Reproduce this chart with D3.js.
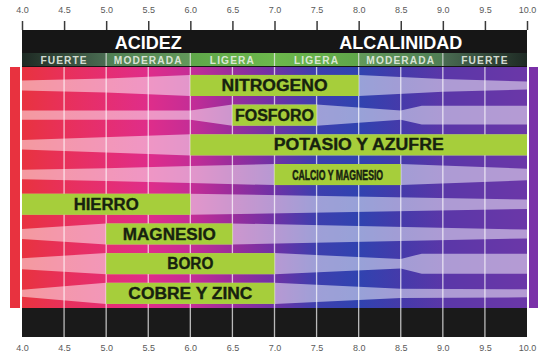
<!DOCTYPE html>
<html><head><meta charset="utf-8">
<script src="https://cdn.jsdelivr.net/npm/d3@7"></script>
<style>html,body{margin:0;padding:0;background:#fff;}svg{display:block;}</style>
</head><body>
<script>
// ---- data ----
const phTicks = [4.0,4.5,5.0,5.5,6.0,6.5,7.0,7.5,8.0,8.5,9.0,9.5,10.0];
const nutrients = ["NITROGENO","FOSFORO","POTASIO Y AZUFRE","CALCIO Y MAGNESIO","HIERRO","MAGNESIO","BORO","COBRE Y ZINC"];
const optimalStart = [6.0, 6.5, 6.0, 7.0, 4.0, 5.0, 5.0, 5.0];
const optimalEnd   = [8.0, 7.5, 10.0, 8.5, 6.0, 6.5, 7.0, 7.0];
const availN  = [[4.0,0.48],[5.0,0.67],[6.0,1],[8.0,1],[9.0,0.6],[10.0,0.38]];
const availP  = [[4.0,0.43],[6.0,0.43],[6.5,1],[7.5,1],[8.5,0.43],[8.75,0.88],[10.0,0.88]];
const availK  = [[4.0,0.45],[6.0,1],[10.0,1]];
const availCa = [[4.0,0.45],[5.0,0.6],[6.0,0.8],[7.0,1],[8.5,1],[10.0,0.55]];
const availFe = [[4.0,1],[6.0,1],[10.0,0.45]];
const availMg = [[4.0,0.48],[5.0,1],[6.5,1],[10.0,0.42]];
const availB  = [[4.0,0.52],[5.0,1],[7.0,1],[8.5,0.45],[8.75,0.95],[10.0,0.95]];
const availCu = [[4.0,0.33],[5.0,1],[7.0,1],[8.5,0.43],[10.0,0.38]];
const availability = [availN, availP, availK, availCa, availFe, availMg, availB, availCu];
const headerLabels = ["ACIDEZ","ALCALINIDAD"];
const headerCenters = [5.5, 8.5];
const zoneStart = [4,5,6,7,8,9];
const zoneEnd   = [5,6,7,8,9,10];
const zoneLabels = ["FUERTE","MODERADA","LIGERA","LIGERA","MODERADA","FUERTE"];

// ---- layout ----
const W = 543, H = 360;
const svg = d3.select("body").append("svg").attr("width", W).attr("height", H);
const x = d3.scaleLinear().domain([4,10]).range([22,527]);
const y = d3.scaleBand().domain(nutrients).range([70.6,308.2]).paddingInner(0.29).paddingOuter(0.145);
const bw = y.bandwidth();
const mainTop = 67, mainBot = 308;

const defs = svg.append("defs");
const bg = defs.append("linearGradient").attr("id","bg").attr("gradientUnits","userSpaceOnUse")
  .attr("x1", x(4)).attr("x2", x(10)).attr("y1",0).attr("y2",0);
const bgStops = [[4.0,"#e8333f"],[4.5,"#e8305a"],[5.0,"#e52e72"],[5.5,"#df2d8a"],[6.0,"#c52d96"],[6.5,"#9a2d9c"],
  [7.0,"#6e32a6"],[7.5,"#3d3fae"],[8.0,"#3043b0"],[8.5,"#453aaa"],[9.0,"#5a37a8"],[10.0,"#6b37a8"]];
bg.selectAll("stop").data(bgStops).join("stop")
  .attr("offset", d => (x(d[0])-x(4))/(x(10)-x(4))).attr("stop-color", d => d[1]);

const zoneColors = [["#1e2a24","#4a6c52"],["#4f7e54","#62995a"],["#5fa64a","#6cb84c"],["#6cb84c","#5fa64a"],["#62995a","#4f7e54"],["#4a6c52","#1e2a24"]];
zoneColors.forEach((c,i) => {
  const g = defs.append("linearGradient").attr("id","z"+i);
  g.append("stop").attr("offset",0).attr("stop-color",c[0]);
  g.append("stop").attr("offset",1).attr("stop-color",c[1]);
});

// side bars
svg.append("rect").attr("x",10).attr("y",mainTop).attr("width",10).attr("height",mainBot-mainTop).attr("fill","#e8323f");
svg.append("rect").attr("x",529).attr("y",mainTop).attr("width",9).attr("height",mainBot-mainTop).attr("fill","#7a30a8");

// main background
svg.append("rect").attr("x",x(4)).attr("y",mainTop).attr("width",x(10)-x(4)).attr("height",mainBot-mainTop).attr("fill","url(#bg)");

// availability bands
nutrients.forEach((n,i) => {
  const cy = y(n) + bw/2;
  const area = d3.area().x(d => x(d[0])).y0(d => cy - d[1]*bw/2).y1(d => cy + d[1]*bw/2);
  svg.append("path").attr("d", area(availability[i])).attr("fill","#fff").attr("fill-opacity",0.5);
});

// header
svg.append("rect").attr("x",x(4)).attr("y",30).attr("width",x(10)-x(4)).attr("height",mainTop-30).attr("fill","#161616");
svg.selectAll(".zone").data(zoneLabels).join("rect")
  .attr("x",(d,i)=>x(zoneStart[i])).attr("y",53).attr("width",(d,i)=>x(zoneEnd[i])-x(zoneStart[i])).attr("height",13)
  .attr("fill",(d,i)=>"url(#z"+i+")");
svg.selectAll(".zsep").data(zoneStart.slice(1)).join("line")
  .attr("x1",d=>x(d)).attr("x2",d=>x(d)).attr("y1",53).attr("y2",66).attr("stroke","#fff").attr("stroke-opacity",0.7).attr("stroke-width",1.2);
svg.selectAll(".zlab").data(zoneLabels).join("text")
  .attr("x",(d,i)=>x((zoneStart[i]+zoneEnd[i])/2)).attr("y",63.8).attr("text-anchor","middle")
  .attr("font-family","Liberation Sans, Arial, sans-serif").attr("font-weight","bold").attr("font-size",10.2)
  .attr("letter-spacing",1.1).attr("fill","#e8f0e6").attr("fill-opacity",0.9).text(d=>d);
svg.selectAll(".hlab").data(headerLabels).join("text")
  .attr("x",(d,i)=>x(headerCenters[i])).attr("y",48.5).attr("text-anchor","middle")
  .attr("font-family","Liberation Sans, Arial, sans-serif").attr("font-weight","bold").attr("font-size",18)
  .attr("fill","#fff").text(d=>d);

// bottom band
svg.append("rect").attr("x",x(4)).attr("y",mainBot).attr("width",x(10)-x(4)).attr("height",29).attr("fill","#1a1a1a");

// grid lines
svg.selectAll(".grid").data(phTicks.slice(1,-1)).join("line")
  .attr("x1",d=>x(d)).attr("x2",d=>x(d)).attr("y1",mainTop).attr("y2",mainBot+29)
  .attr("stroke","#fff").attr("stroke-opacity",0.7).attr("stroke-width",1.3);

// optimal bars
nutrients.forEach((n,i) => {
  svg.append("rect").attr("x",x(optimalStart[i])).attr("y",y(n)).attr("width",x(optimalEnd[i])-x(optimalStart[i])).attr("height",bw)
    .attr("fill","#a6ce3b");
});
const labelWidths = [106,79,170,91,65,93,46,124];
nutrients.forEach((n,i) => {
  const small = i === 3;
  svg.append("text").attr("x",x((optimalStart[i]+optimalEnd[i])/2)).attr("y",y(n)+bw/2+(small?5:5.6))
    .attr("text-anchor","middle").attr("font-family","Liberation Sans, Arial, sans-serif").attr("font-weight","bold")
    .attr("font-size", small ? 14 : 16).attr("fill","#17220f")
    .attr("stroke","#17220f").attr("stroke-width", small ? 0.5 : 0.35)
    .attr("textLength",labelWidths[i]).attr("lengthAdjust","spacingAndGlyphs").text(n);
});

// axes
const fmt = d3.format(".1f");
const topAxis = d3.axisTop(x).tickValues(phTicks).tickFormat(fmt).tickSize(9).tickPadding(8);
const gt = svg.append("g").attr("transform","translate(0,30)").call(topAxis);
gt.select(".domain").remove();
gt.selectAll(".tick line").attr("stroke","#3a3a3a").attr("stroke-width",1.5);
gt.selectAll(".tick text").attr("fill","#5a5a5a").attr("font-size",9).attr("font-family","Liberation Sans, Arial, sans-serif");
const botAxis = d3.axisBottom(x).tickValues(phTicks).tickFormat(fmt).tickSize(0).tickPadding(8);
const gb = svg.append("g").attr("transform","translate(0,337)").call(botAxis);
gb.select(".domain").remove();
gb.selectAll(".tick text").attr("fill","#5a5a5a").attr("font-size",9).attr("font-family","Liberation Sans, Arial, sans-serif");
</script>
</body></html>
